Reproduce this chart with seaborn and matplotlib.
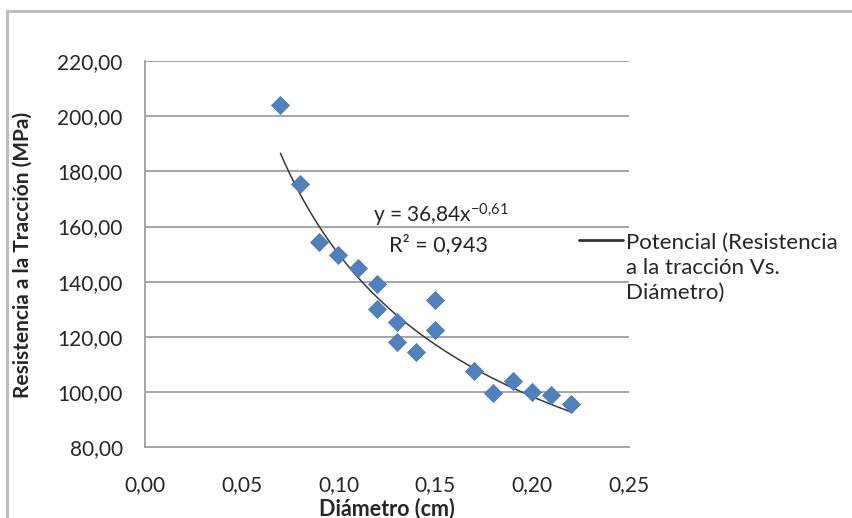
import numpy as np
import pandas as pd
import matplotlib
matplotlib.use("Agg")
import matplotlib.pyplot as plt
import seaborn as sns
from matplotlib.legend_handler import HandlerLine2D

# data
diametro = [0.07, 0.08, 0.09, 0.10, 0.11, 0.12, 0.12, 0.13, 0.13, 0.14,
            0.15, 0.15, 0.17, 0.18, 0.19, 0.20, 0.21, 0.22]
resistencia = [204.0, 175.5, 154.4, 149.6, 145.0, 139.0, 130.0, 125.3, 118.1, 114.3,
               133.3, 122.4, 107.7, 99.7, 104.0, 100.0, 99.0, 95.5]

# power trendline shown on the chart: y = a * x^b
coef_a = 36.84
coef_b = -0.61
r2_text = "0,943"

x_ticks = [0.00, 0.05, 0.10, 0.15, 0.20, 0.25]
y_ticks = [80, 100, 120, 140, 160, 180, 200, 220]

sns.set_style("white")
plt.rcParams['font.family'] = ['Lato', 'DejaVu Sans']
plt.rcParams['mathtext.fontset'] = 'custom'
plt.rcParams['mathtext.rm'] = 'Lato'
plt.rcParams['mathtext.default'] = 'rm'

df = pd.DataFrame({"d": diametro, "r": resistencia})
xs = np.linspace(min(diametro), max(diametro), 200)
trend = pd.DataFrame({"d": xs, "r": coef_a * xs ** coef_b})


class FirstLineHandler(HandlerLine2D):
    # put the legend line next to the first line of a 3-line label
    def __init__(self, shift, **kw):
        super().__init__(**kw)
        self.shift = shift

    def create_artists(self, *args, **kwargs):
        arts = super().create_artists(*args, **kwargs)
        for a in arts:
            a.set_ydata(np.asarray(a.get_ydata(), dtype=float) + self.shift)
        return arts


fig = plt.figure(figsize=(8.53, 5.18), dpi=100)
ax = fig.add_axes([0.170, 0.137, 0.567, 0.745])

grid_c = "#a6a6a6"
txt_c = "#262626"
for v in y_ticks[1:]:
    ax.axhline(v, color=grid_c, lw=1.4, zorder=0)

sns.lineplot(data=trend, x="d", y="r", color="#3a3a3a", lw=1.1, ax=ax,
             label="Potencial (Resistencia\na la tracción Vs.\nDiámetro)", zorder=2)
sns.scatterplot(data=df, x="d", y="r", marker="D", s=85, color="#4f81bd",
                edgecolor="#4a78b0", linewidth=0.5, ax=ax, zorder=3)

ax.set_xlim(0, 0.25)
ax.set_ylim(80, 220)
ax.set_xticks(x_ticks)
ax.set_yticks(y_ticks)
ax.set_xticklabels([f"{t:.2f}".replace(".", ",") for t in x_ticks])
ax.set_yticklabels([f"{t:.2f}".replace(".", ",") for t in y_ticks])
ax.tick_params(axis="both", labelsize=15, colors=grid_c, length=4,
               width=1.2, direction="out", labelcolor=txt_c)
ax.tick_params(axis="x", pad=16)
ax.tick_params(axis="y", pad=12)

for s in ["top", "right"]:
    ax.spines[s].set_visible(False)
for s in ["left", "bottom"]:
    ax.spines[s].set_color(grid_c)
    ax.spines[s].set_linewidth(1.4)

ax.set_xlabel("Diámetro (cm)", fontsize=15.5, fontweight="bold", color=txt_c)
ax.set_ylabel("Resistencia a la Tracción (MPa)", fontsize=15, fontweight="bold",
              color=txt_c)
ax.xaxis.set_label_coords(0.5, -0.132)
ax.yaxis.set_label_coords(-0.232, 0.497)

ax.text(0.1178, 161.5, r"y = 36,84x$^{-0{,}61}$", fontsize=15, color=txt_c)
ax.text(0.1262, 151.0, "R² = " + r2_text, fontsize=15.5, color=txt_c)

leg_fs = 16
leg_ls = 1.32
line = ax.get_lines()[-1]
leg = ax.legend(handler_map={line: FirstLineHandler(shift=leg_fs * leg_ls * 0.96)},
                loc="upper left", bbox_to_anchor=(0.897, 0.556), frameon=False,
                fontsize=leg_fs, handlelength=2.0, handletextpad=0.1,
                borderaxespad=0, borderpad=0)
for t in leg.get_texts():
    t.set_color(txt_c)
    t.set_linespacing(leg_ls)
for h in leg.get_lines():
    h.set_linewidth(2)
    h.set_color("#333333")

# outer chart frame (top and left edges visible)
fig.add_artist(plt.Line2D([0.008, 1.0], [0.979, 0.979], color="#bdbdbd", lw=2.2))
fig.add_artist(plt.Line2D([0.008, 0.008], [0.0, 0.979], color="#bdbdbd", lw=2.2))

fig.savefig("out.png", dpi=100)
